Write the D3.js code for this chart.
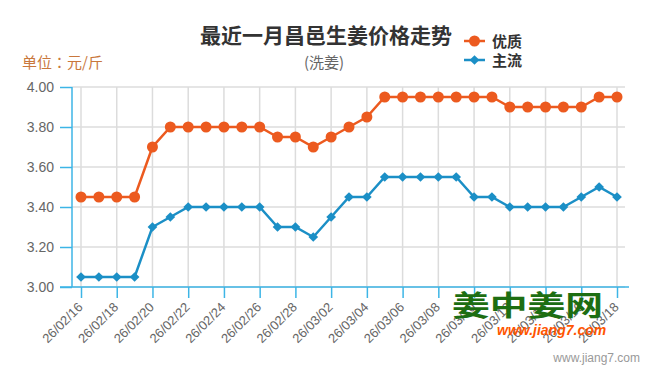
<!DOCTYPE html>
<html><head><meta charset="utf-8">
<script src="https://cdn.jsdelivr.net/npm/d3@7"></script>
<style>
html,body{margin:0;padding:0;background:#fff;}
svg{display:block;}
</style></head>
<body>
<svg id="c" width="650" height="377"></svg>
<script>
const dates = ["26/02/16","26/02/17","26/02/18","26/02/19","26/02/20","26/02/21","26/02/22","26/02/23","26/02/24","26/02/25","26/02/26","26/02/27","26/02/28","26/03/01","26/03/02","26/03/03","26/03/04","26/03/05","26/03/06","26/03/07","26/03/08","26/03/09","26/03/10","26/03/11","26/03/12","26/03/13","26/03/14","26/03/15","26/03/16","26/03/17","26/03/18"];
const youzhi = [3.45,3.45,3.45,3.45,3.70,3.80,3.80,3.80,3.80,3.80,3.80,3.75,3.75,3.70,3.75,3.80,3.85,3.95,3.95,3.95,3.95,3.95,3.95,3.95,3.90,3.90,3.90,3.90,3.90,3.95,3.95];
const zhuliu = [3.05,3.05,3.05,3.05,3.30,3.35,3.40,3.40,3.40,3.40,3.40,3.30,3.30,3.25,3.35,3.45,3.45,3.55,3.55,3.55,3.55,3.55,3.45,3.45,3.40,3.40,3.40,3.40,3.45,3.50,3.45];
const xTickLabels = ["26/02/16","26/02/18","26/02/20","26/02/22","26/02/24","26/02/26","26/02/28","26/03/02","26/03/04","26/03/06","26/03/08","26/03/10","26/03/12","26/03/14","26/03/16","26/03/18"];
const yTicks = [3.00,3.20,3.40,3.60,3.80,4.00];
const seriesNames = ["优质","主流"];

const parse = d3.timeParse("%y/%m/%d");
const svg = d3.select("#c");
const L = 72, R = 625, T = 87, B = 287;
const x = d3.scaleTime().domain([parse(dates[0]), parse(dates[dates.length-1])]).range([81, 617]);
const y = d3.scaleLinear().domain([3.0, 4.0]).range([B, T]);
const axisColor = "#3db5e6";
const orange = "#ec5a1f", blue = "#1b8fc6";
const cjk = "'Noto Sans CJK SC','Liberation Sans',sans-serif";
const lat = "'Liberation Sans',Arial,sans-serif";

// grid
const g = svg.append("g");
g.selectAll(".hg").data(yTicks).enter().append("line")
  .attr("x1", L).attr("x2", R).attr("y1", d => y(d)).attr("y2", d => y(d))
  .attr("stroke", "#dcdcdc").attr("stroke-width", 1.5);
g.selectAll(".vg").data(xTickLabels).enter().append("line")
  .attr("x1", d => x(parse(d))).attr("x2", d => x(parse(d)))
  .attr("y1", T).attr("y2", B)
  .attr("stroke", "#dcdcdc").attr("stroke-width", 1.5);

// y axis
const yAxis = d3.axisLeft(y).tickValues(yTicks).tickFormat(d3.format(".2f")).tickSize(12).tickPadding(6);
const ya = svg.append("g").attr("transform", `translate(${L},0)`).call(yAxis);
ya.select(".domain").remove();
ya.selectAll(".tick line").attr("stroke", axisColor).attr("stroke-width", 1.5);
ya.selectAll("text").attr("fill", "#666").style("font-family", lat).style("font-size", "14px");
svg.append("line").attr("x1", L).attr("x2", L).attr("y1", y(4.0)).attr("y2", B)
  .attr("stroke", axisColor).attr("stroke-width", 1.5);

// x axis
const xAxis = d3.axisBottom(x).tickValues(xTickLabels.map(parse)).tickFormat(d3.timeFormat("%y/%m/%d")).tickSize(11).tickPadding(0);
const xa = svg.append("g").attr("transform", `translate(0,${B})`).call(xAxis);
xa.select(".domain").remove();
xa.selectAll(".tick line").attr("stroke", axisColor).attr("stroke-width", 1.5);
xa.selectAll("text").attr("fill", "#666").style("font-family", lat).style("font-size", "13px")
  .attr("text-anchor", "end").attr("dy", null).attr("y", null)
  .attr("transform", "translate(2,21) rotate(-45)");
svg.append("line").attr("x1", 60).attr("x2", 629).attr("y1", B).attr("y2", B)
  .attr("stroke", axisColor).attr("stroke-width", 1.5);

// lines
const line = d3.line().x((d, i) => x(parse(dates[i]))).y(d => y(d));
svg.append("path").datum(youzhi).attr("d", line).attr("fill", "none").attr("stroke", orange).attr("stroke-width", 2.5);
svg.append("path").datum(zhuliu).attr("d", line).attr("fill", "none").attr("stroke", blue).attr("stroke-width", 2.5);
svg.selectAll(".pt1").data(youzhi).enter().append("circle")
  .attr("cx", (d, i) => x(parse(dates[i]))).attr("cy", d => y(d)).attr("r", 5.5).attr("fill", orange);
const diamond = d3.symbol().type(d3.symbolDiamond2).size(60);
svg.selectAll(".pt2").data(zhuliu).enter().append("path")
  .attr("d", diamond)
  .attr("transform", (d, i) => `translate(${x(parse(dates[i]))},${y(d)})`).attr("fill", blue);

// titles
svg.append("text").attr("x", 326).attr("y", 43).attr("text-anchor", "middle")
  .style("font-family", cjk).style("font-size", "21px").style("font-weight", "bold").attr("fill", "#333")
  .text("最近一月昌邑生姜价格走势");
svg.append("text").attr("x", 324).attr("y", 68).attr("text-anchor", "middle")
  .style("font-family", cjk).style("font-size", "15px").attr("fill", "#666")
  .text("(洗姜)");
const unit = svg.append("text").attr("x", 22).attr("y", 68)
  .style("font-family", cjk).style("font-size", "15px").attr("fill", "#c9773c");
unit.append("tspan").text("单位");
unit.append("tspan").style("font-family", "'Noto Sans CJK TC','Noto Sans CJK SC',sans-serif").text("：");
unit.append("tspan").text("元/斤");

// legend
const leg = [{n: seriesNames[0], c: orange, y: 41, t: "c"}, {n: seriesNames[1], c: blue, y: 60, t: "d"}];
leg.forEach(l => {
  svg.append("line").attr("x1", 464).attr("x2", 485).attr("y1", l.y).attr("y2", l.y).attr("stroke", l.c).attr("stroke-width", 2.5);
  if (l.t === "c") svg.append("circle").attr("cx", 474.5).attr("cy", l.y).attr("r", 5.5).attr("fill", l.c);
  else svg.append("path").attr("d", diamond).attr("transform", `translate(474.5,${l.y})`).attr("fill", l.c);
  svg.append("text").attr("x", 492).attr("y", l.y + 5.5)
    .style("font-family", cjk).style("font-size", "15px").style("font-weight", "bold").attr("fill", "#333").text(l.n);
});

// watermark
svg.append("text").attr("transform", "translate(452,316) scale(1.35,1)")
  .style("font-family", cjk).style("font-size", "28px").style("font-weight", "bold").attr("fill", "#1d6e12")
  .text("姜中姜网");
svg.append("text").attr("x", 497).attr("y", 335)
  .style("font-family", lat).style("font-size", "14px").style("font-weight", "bold").style("font-style", "italic").attr("fill", "#ff5500")
  .text("www.jiang7.com");
svg.append("text").attr("x", 640).attr("y", 362).attr("text-anchor", "end")
  .style("font-family", lat).style("font-size", "12px").attr("fill", "#999")
  .text("www.jiang7.com");
</script>
</body></html>
